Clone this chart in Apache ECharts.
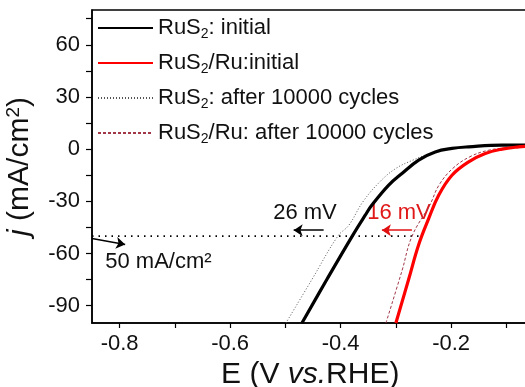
<!DOCTYPE html>
<html>
<head>
<meta charset="utf-8">
<script src="https://cdn.jsdelivr.net/npm/echarts@6/dist/echarts.min.js"></script>
<style>
  html, body { margin: 0; padding: 0; background: #fff; }
  #chart { width: 525px; height: 387px; }
</style>
</head>
<body>
<div id="chart"></div>
<script>
// LSV curves: [E (V vs RHE), j (mA/cm2)]
const rus2Initial = [
  [-0.470, -100], [-0.425, -75], [-0.379, -50], [-0.3555, -38], [-0.3434, -32.2],
  [-0.313, -20.7], [-0.289, -14], [-0.2588, -6.3], [-0.2288, -1.6], [-0.1985, 0.4],
  [-0.1683, 1.3], [-0.108, 2.3], [-0.06, 2.3],
]
const rus2RuInitial = [
  [-0.300, -100], [-0.277, -75], [-0.2588, -55], [-0.2407, -40], [-0.2226, -26.5],
  [-0.1985, -15], [-0.1683, -7.3], [-0.1383, -2.5], [-0.108, 0], [-0.078, 1.3], [-0.06, 1.7],
]
const rus2After = [
  [-0.499, -100], [-0.452, -75], [-0.405, -50], [-0.385, -43.7], [-0.3597, -30.3],
  [-0.329, -18.8], [-0.300, -11.1], [-0.269, -6.3], [-0.2385, -2.5], [-0.208, 0],
  [-0.170, 1.5], [-0.108, 2.3], [-0.06, 2.3],
]
const rus2RuAfter = [
  [-0.318, -100], [-0.289, -70], [-0.2707, -50], [-0.2384, -32], [-0.222, -20.7],
  [-0.1967, -11], [-0.166, -4.4], [-0.1316, -0.6], [-0.09, 1.0], [-0.06, 1.6],
]

const seriesNames = [
  'RuS2: initial', 'RuS2/Ru:initial',
  'RuS2: after 10000 cycles', 'RuS2/Ru: after 10000 cycles',
]
const legendLabels = [
  '{a|RuS}{s|2}{a|: initial}', '{a|RuS}{s|2}{a|/Ru:initial}',
  '{a|RuS}{s|2}{a|: after 10000 cycles}', '{a|RuS}{s|2}{a|/Ru: after 10000 cycles}',
]

// 50 mA/cm2 reference line
const refLine = [[-0.85, -50], [-0.254, -50]]

// annotations
const annoBlack = [[-0.4645, -36.8, '26 mV'], [-0.7298, -64.7, '50 mA/cm²']]
const annoRed = [[-0.2945, -36.8, '16 mV']]
const arrowsBlack = [
  [[-0.4308, -46.6], [-0.485, -46.6]],
  [[-0.85, -51.4], [-0.79, -54.8]],
]
const arrowsRed = [[[-0.271, -46.6], [-0.3253, -46.6]]]

const xTicks = [-0.8, -0.7, -0.6, -0.5, -0.4, -0.3, -0.2, -0.1]
const xLabels = [-0.8, -0.6, -0.4, -0.2]
const yTicks = [-90, -75, -60, -45, -30, -15, 0, 15, 30, 45, 60, 75]
const yLabels = [-90, -60, -30, 0, 30, 60]

const FONT = "'Liberation Sans', Arial, sans-serif"

const chart = echarts.init(document.getElementById('chart'), null, { renderer: 'canvas' })

function arrowLine(pairs, color) {
  return pairs.map(p => [
    { coord: p[0], lineStyle: { color }, itemStyle: { color } },
    { coord: p[1], lineStyle: { color }, itemStyle: { color } },
  ])
}

function curve(name, data, color, width, type, z) {
  return {
    name, type: 'line', data, symbol: 'none', smooth: 0.4,
    lineStyle: { color, width, type }, itemStyle: { color }, z,
  }
}

chart.setOption({
  animation: false,
  backgroundColor: '#fff',
  textStyle: { fontFamily: FONT, color: '#000' },
  grid: {
    left: 92, top: 10, width: 436.5, height: 313,
    outerBoundsMode: 'none',
    containLabel: false,
    show: true, borderColor: '#000', borderWidth: 1.5,
  },
  legend: {
    data: seriesNames,
    orient: 'vertical',
    left: 97, top: 15, padding: 0,
    itemWidth: 55, itemHeight: 14, itemGap: 9,
    itemStyle: { opacity: 0 },
    formatter: (name) => legendLabels[seriesNames.indexOf(name)],
    textStyle: {
      fontFamily: FONT,
      rich: {
        a: { fontSize: 22, lineHeight: 26, color: '#111', fontFamily: FONT },
        s: { fontSize: 14, lineHeight: 14, verticalAlign: 'bottom', padding: [12, 0, 0, 0], color: '#111', fontFamily: FONT },
      },
    },
  },
  xAxis: {
    type: 'value',
    min: -0.85, max: -0.06,
    splitLine: { show: false },
    axisLine: { onZero: false, lineStyle: { color: '#000', width: 1.5 } },
    axisTick: { customValues: xTicks, length: 5, lineStyle: { color: '#000', width: 1.2 } },
    axisLabel: { customValues: xLabels, fontSize: 22, color: '#111', margin: 10, fontFamily: FONT },
    name: '{n|E (V }{i|vs.}{n|RHE)}',
    nameLocation: 'middle',
    nameGap: 35,
    nameTextStyle: {
      rich: {
        n: { fontSize: 30, fontFamily: FONT, color: '#111' },
        i: { fontSize: 30, fontFamily: FONT, fontStyle: 'italic', color: '#111' },
      },
    },
  },
  yAxis: {
    type: 'value',
    min: -100, max: 80,
    splitLine: { show: false },
    axisLine: { onZero: false, lineStyle: { color: '#000', width: 1.5 } },
    axisTick: { customValues: yTicks, length: 6, lineStyle: { color: '#000', width: 1.2 } },
    axisLabel: { customValues: yLabels, fontSize: 22, color: '#111', margin: 12, fontFamily: FONT },
    name: '{i|j}{n| (mA/cm}{sup|2}{n|)}',
    nameLocation: 'middle',
    nameGap: 56,
    nameTextStyle: {
      rich: {
        n: { fontSize: 30, fontFamily: FONT, color: '#111', lineHeight: 32 },
        i: { fontSize: 30, fontFamily: FONT, fontStyle: 'italic', color: '#111', lineHeight: 32 },
        sup: { fontSize: 19, fontFamily: FONT, color: '#111', verticalAlign: 'top', lineHeight: 18 },
      },
    },
  },
  series: [
    curve(seriesNames[0], rus2Initial, '#000', 3.2, 'solid', 5),
    curve(seriesNames[1], rus2RuInitial, '#f00', 3.2, 'solid', 5),
    curve(seriesNames[2], rus2After, '#555', 1, [1, 2], 4),
    curve(seriesNames[3], rus2RuAfter, '#a03848', 1, [3, 2], 4),
    {
      name: 'ref', type: 'line', data: refLine, symbol: 'none', silent: true, z: 3,
      lineStyle: { color: '#000', width: 1.8, type: [1.5, 5] },
      markLine: {
        silent: true, symbol: ['none', 'arrow'], symbolSize: 9,
        label: { show: false },
        lineStyle: { color: '#000', width: 1.5, type: 'solid' },
        data: arrowLine(arrowsBlack, '#000').concat(arrowLine(arrowsRed, '#e01010')),
      },
    },
    {
      name: 'annoBlack', type: 'scatter', data: annoBlack, symbolSize: 1, silent: true, z: 2,
      itemStyle: { color: 'rgba(0,0,0,0)', opacity: 1 },
      label: {
        show: true, position: 'inside', color: '#111', fontSize: 22, fontFamily: FONT,
        formatter: (p) => p.data[2],
      },
    },
    {
      name: 'annoRed', type: 'scatter', data: annoRed, symbolSize: 1, silent: true, z: 2,
      itemStyle: { color: 'rgba(0,0,0,0)', opacity: 1 },
      label: {
        show: true, position: 'inside', color: '#e01818', fontSize: 22, fontFamily: FONT,
        formatter: (p) => p.data[2],
      },
    },
  ],
})
</script>
</body>
</html>
